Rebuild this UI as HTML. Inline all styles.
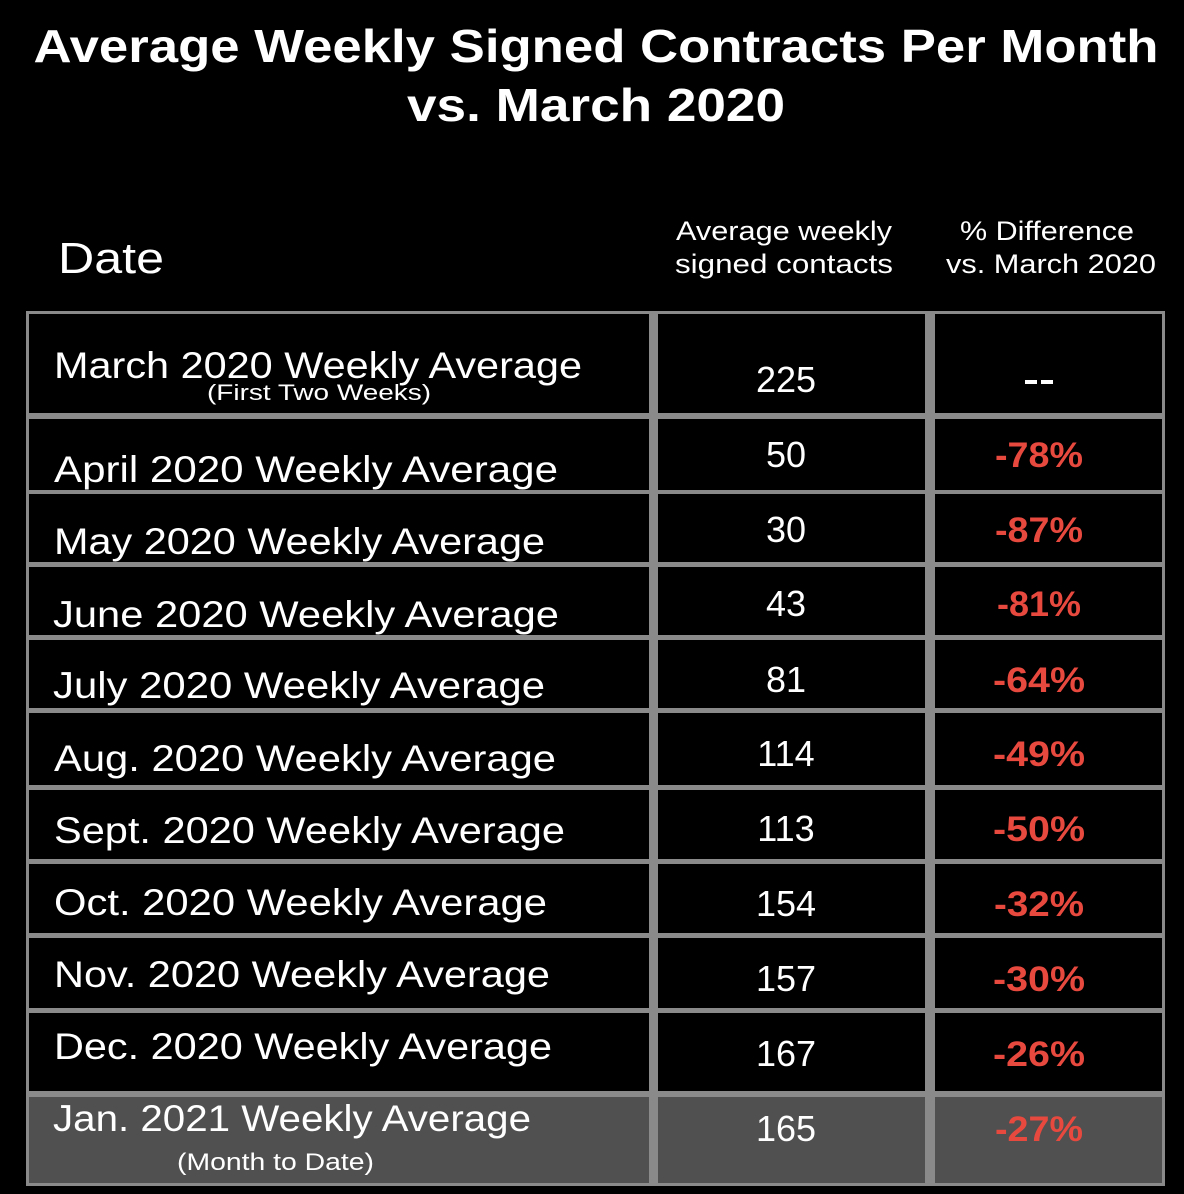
<!DOCTYPE html>
<html><head><style>html,body{margin:0;padding:0;background:#000;}svg{display:block}</style></head>
<body>
<svg width="1184" height="1194" xmlns="http://www.w3.org/2000/svg" font-family="Liberation Sans, sans-serif">
<rect width="1184" height="1194" fill="#000"/>
<g fill="#fff" font-weight="bold" font-size="46" text-anchor="middle">
<text x="596" y="62" textLength="1125" lengthAdjust="spacingAndGlyphs">Average Weekly Signed Contracts Per Month</text>
<text x="596" y="121" textLength="378" lengthAdjust="spacingAndGlyphs">vs. March 2020</text>
</g>
<g fill="#fff">
<text x="58" y="273" font-size="44" textLength="106" lengthAdjust="spacingAndGlyphs">Date</text>
<g font-size="27" text-anchor="middle">
<text x="784" y="240" textLength="216" lengthAdjust="spacingAndGlyphs">Average weekly</text>
<text x="784" y="273" textLength="218" lengthAdjust="spacingAndGlyphs">signed contacts</text>
<text x="1047" y="240" textLength="174" lengthAdjust="spacingAndGlyphs">% Difference</text>
<text x="1051" y="273" textLength="210" lengthAdjust="spacingAndGlyphs">vs. March 2020</text>
</g></g>
<rect x="26" y="311" width="1139" height="875" fill="#8a8a8a"/>
<g fill="#000">
<rect x="29" y="314" width="620" height="99"/><rect x="658" y="314" width="267" height="99"/><rect x="935" y="314" width="227" height="99"/>
<rect x="29" y="419" width="620" height="71"/><rect x="658" y="419" width="267" height="71"/><rect x="935" y="419" width="227" height="71"/>
<rect x="29" y="494" width="620" height="68"/><rect x="658" y="494" width="267" height="68"/><rect x="935" y="494" width="227" height="68"/>
<rect x="29" y="567" width="620" height="68"/><rect x="658" y="567" width="267" height="68"/><rect x="935" y="567" width="227" height="68"/>
<rect x="29" y="640" width="620" height="68"/><rect x="658" y="640" width="267" height="68"/><rect x="935" y="640" width="227" height="68"/>
<rect x="29" y="713" width="620" height="72"/><rect x="658" y="713" width="267" height="72"/><rect x="935" y="713" width="227" height="72"/>
<rect x="29" y="790" width="620" height="69"/><rect x="658" y="790" width="267" height="69"/><rect x="935" y="790" width="227" height="69"/>
<rect x="29" y="864" width="620" height="69"/><rect x="658" y="864" width="267" height="69"/><rect x="935" y="864" width="227" height="69"/>
<rect x="29" y="938" width="620" height="70"/><rect x="658" y="938" width="267" height="70"/><rect x="935" y="938" width="227" height="70"/>
<rect x="29" y="1013" width="620" height="78"/><rect x="658" y="1013" width="267" height="78"/><rect x="935" y="1013" width="227" height="78"/>
</g>
<g fill="#505050">
<rect x="29" y="1097" width="620" height="86"/><rect x="658" y="1097" width="267" height="86"/><rect x="935" y="1097" width="227" height="86"/>
</g>
<g fill="#fff" font-size="37">
<text x="54" y="378" textLength="528" lengthAdjust="spacingAndGlyphs">March 2020 Weekly Average</text>
<text x="207" y="400" font-size="22" textLength="224" lengthAdjust="spacingAndGlyphs">(First Two Weeks)</text>
<text x="54" y="482" textLength="504" lengthAdjust="spacingAndGlyphs">April 2020 Weekly Average</text>
<text x="54" y="554" textLength="491" lengthAdjust="spacingAndGlyphs">May 2020 Weekly Average</text>
<text x="53" y="627" textLength="506" lengthAdjust="spacingAndGlyphs">June 2020 Weekly Average</text>
<text x="53" y="698" textLength="492" lengthAdjust="spacingAndGlyphs">July 2020 Weekly Average</text>
<text x="54" y="771" textLength="502" lengthAdjust="spacingAndGlyphs">Aug. 2020 Weekly Average</text>
<text x="54" y="843" textLength="511" lengthAdjust="spacingAndGlyphs">Sept. 2020 Weekly Average</text>
<text x="54" y="915" textLength="493" lengthAdjust="spacingAndGlyphs">Oct. 2020 Weekly Average</text>
<text x="54" y="987" textLength="496" lengthAdjust="spacingAndGlyphs">Nov. 2020 Weekly Average</text>
<text x="54" y="1059" textLength="498" lengthAdjust="spacingAndGlyphs">Dec. 2020 Weekly Average</text>
<text x="53" y="1131" textLength="478" lengthAdjust="spacingAndGlyphs">Jan. 2021 Weekly Average</text>
<text x="177" y="1170" font-size="24" textLength="197" lengthAdjust="spacingAndGlyphs">(Month to Date)</text>
</g>
<g fill="#fff" font-size="36" text-anchor="middle">
<text x="786" y="392">225</text>
<text x="786" y="467">50</text>
<text x="786" y="542">30</text>
<text x="786" y="616">43</text>
<text x="786" y="692">81</text>
<text x="786" y="766">114</text>
<text x="786" y="841">113</text>
<text x="786" y="916">154</text>
<text x="786" y="991">157</text>
<text x="786" y="1066">167</text>
<text x="786" y="1141">165</text>
</g>
<rect x="1025" y="380" width="12" height="4" fill="#fff"/><rect x="1041" y="380" width="12" height="4" fill="#fff"/>
<g fill="#e8493f" font-size="35" font-weight="bold" text-anchor="middle">
<text x="1039" y="467" textLength="88" lengthAdjust="spacingAndGlyphs">-78%</text>
<text x="1039" y="542" textLength="88" lengthAdjust="spacingAndGlyphs">-87%</text>
<text x="1039" y="616" textLength="84" lengthAdjust="spacingAndGlyphs">-81%</text>
<text x="1039" y="692" textLength="92" lengthAdjust="spacingAndGlyphs">-64%</text>
<text x="1039" y="766" textLength="92" lengthAdjust="spacingAndGlyphs">-49%</text>
<text x="1039" y="841" textLength="92" lengthAdjust="spacingAndGlyphs">-50%</text>
<text x="1039" y="916" textLength="90" lengthAdjust="spacingAndGlyphs">-32%</text>
<text x="1039" y="991" textLength="92" lengthAdjust="spacingAndGlyphs">-30%</text>
<text x="1039" y="1066" textLength="92" lengthAdjust="spacingAndGlyphs">-26%</text>
<text x="1039" y="1141" textLength="88" lengthAdjust="spacingAndGlyphs">-27%</text>
</g>
</svg>
</body></html>
